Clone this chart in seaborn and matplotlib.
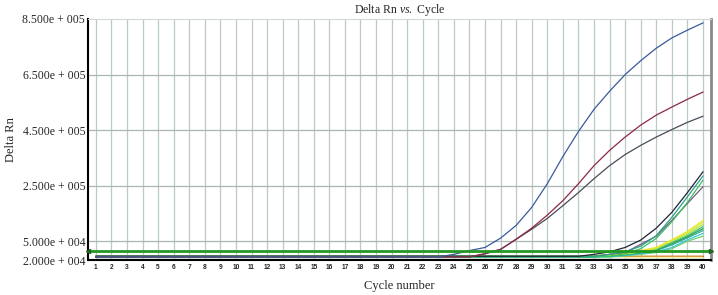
import numpy as np
import pandas as pd
import matplotlib
matplotlib.use("Agg")
import matplotlib.pyplot as plt
import seaborn as sns

# ---- data (Delta Rn in thousands) ----
cycles = list(range(1, 41))

blue = [25] * 23 + [29, 35, 40, 61, 107, 172, 257, 355, 445, 525, 590, 650, 700, 745, 782, 810, 836]
red = [25] * 25 + [30, 37, 57, 97, 144, 196, 257, 322, 377, 425, 468, 504, 533, 561, 587]
gray = [25] * 25 + [30, 37, 57, 93, 132, 178, 225, 275, 322, 362, 395, 425, 452, 478, 500]
late_black = [26] * 32 + [29, 33, 40, 54, 97, 154, 225, 300]
late_teal = [26] * 33 + [29, 33, 42, 70, 136, 210, 285]
late_green = [26] * 34 + [30, 38, 60, 120, 190, 270]
late_purple = [26] * 33 + [29, 32, 45, 68, 125, 186, 246]
yellow1 = [27] * 33 + [29, 31, 35, 40, 55, 85, 125]
yellow2 = [26] * 33 + [28, 30, 34, 39, 52, 80, 118]
lime1 = [26] * 33 + [28, 30, 33, 38, 50, 75, 110]
green2 = [25] * 33 + [27, 29, 32, 37, 48, 70, 102]
green3 = [25] * 33 + [27, 29, 32, 36, 46, 66, 95]
teal2 = [25] * 33 + [26, 28, 31, 35, 44, 62, 88]
cyan1 = [25] * 34 + [27, 30, 33, 40, 55, 78]
green4 = [25] * 34 + [27, 29, 32, 38, 50, 68]
flat_pale = [24] * 40
flat_orange = [26] * 26 + [27, 27, 27, 27] + [26] * 10
flat_navy = [27] * 40
flat_ltblue = [22] * 40
flat_brown = [25] * 40

curves = {
    "blue": (blue, "#3a5a9c"),
    "red": (red, "#8c2846"),
    "gray": (gray, "#4a4a5a"),
    "late_black": (late_black, "#23233a"),
    "late_teal": (late_teal, "#2aa08a"),
    "late_green": (late_green, "#3cc060"),
    "late_purple": (late_purple, "#7a5a80"),
    "yellow1": (yellow1, "#e8e820"),
    "yellow2": (yellow2, "#d8e840"),
    "lime1": (lime1, "#a8e050"),
    "green2": (green2, "#40c070"),
    "green3": (green3, "#20a050"),
    "teal2": (teal2, "#30b0a0"),
    "cyan1": (cyan1, "#40c8d0"),
    "green4": (green4, "#70d070"),
    "flat_pale": (flat_pale, "#f4f4b0"),
    "flat_orange": (flat_orange, "#f0a020"),
    "flat_navy": (flat_navy, "#1a2a80"),
    "flat_ltblue": (flat_ltblue, "#80c8f0"),
    "flat_brown": (flat_brown, "#806040"),
}

threshold = 34.7

ytick_vals = [20, 50, 250, 450, 650, 850]
ytick_labels = ["2.000e + 004", "5.000e + 004", "2.500e + 005",
                "4.500e + 005", "6.500e + 005", "8.500e + 005"]

rows = []
for name, (vals, col) in curves.items():
    for c, v in zip(cycles, vals):
        rows.append({"well": name, "cycle": c, "rn": v})
df = pd.DataFrame(rows)
palette = {name: col for name, (vals, col) in curves.items()}

# ---- plotting ----
sns.set_style("white")
plt.rcParams["font.family"] = ["Liberation Serif", "DejaVu Serif"]
plt.rcParams["mathtext.fontset"] = "custom"
plt.rcParams["mathtext.rm"] = "Liberation Serif"
plt.rcParams["mathtext.it"] = "Liberation Serif:italic"

fig = plt.figure(figsize=(7.18, 2.95), dpi=100)
ax = fig.add_axes([0.1226, 0.1186, 0.8674, 0.817])

# compressed region below 5e4, as in the instrument software
k = 2.263
def fwd(y):
    y = np.asarray(y, dtype=float)
    return np.where(y >= 50, y, 50 - (50 - y) * k)
def inv(t):
    t = np.asarray(t, dtype=float)
    return np.where(t >= 50, t, 50 - (50 - t) / k)
ax.set_yscale("function", functions=(fwd, inv))

for x in cycles:
    ax.axvline(x, color="#bccac5", lw=0.9, zorder=0)
for y in ytick_vals[1:-1]:
    ax.axhline(y, color="#a8b8b2", lw=0.9, zorder=0)

sns.lineplot(data=df, x="cycle", y="rn", hue="well", palette=palette,
             hue_order=list(curves.keys())[::-1], lw=0.9, legend=False, ax=ax)

# threshold line with end arrows
ax.axhline(threshold, color="#229922", lw=2.0, zorder=5)
ax.plot([0.5], [threshold], marker="<", color="#226622", ms=3, clip_on=False, zorder=6)
ax.plot([40.5], [threshold], marker=">", color="#226622", ms=3, clip_on=False, zorder=6)

ax.set_xlim(0.5, 40.5)
ax.set_ylim(20, 850)
ax.set_xticks(cycles)
ax.set_xticklabels([str(c) for c in cycles], fontsize=4.8, fontweight="bold",
                   family="Liberation Sans")
ax.set_yticks(ytick_vals)
ax.set_yticklabels(ytick_labels, fontsize=8.5)
ax.tick_params(axis="both", length=0, pad=2)
ax.tick_params(axis="x", pad=3)

for s in ["left", "bottom"]:
    ax.spines[s].set_color("black")
    ax.spines[s].set_linewidth(1.5)
ax.spines["right"].set_color("#8a8a8a")
ax.spines["right"].set_linewidth(2)
ax.spines["top"].set_color("#d0d8d4")
ax.spines["top"].set_linewidth(0.8)

ax.set_title(r"Delta Rn $\mathit{vs.}$ Cycle", fontsize=8.5, pad=4)
ax.set_xlabel("Cycle number", fontsize=9, labelpad=6)
ax.set_ylabel("Delta Rn", fontsize=9, labelpad=4)

fig.savefig("out.png", dpi=100)
